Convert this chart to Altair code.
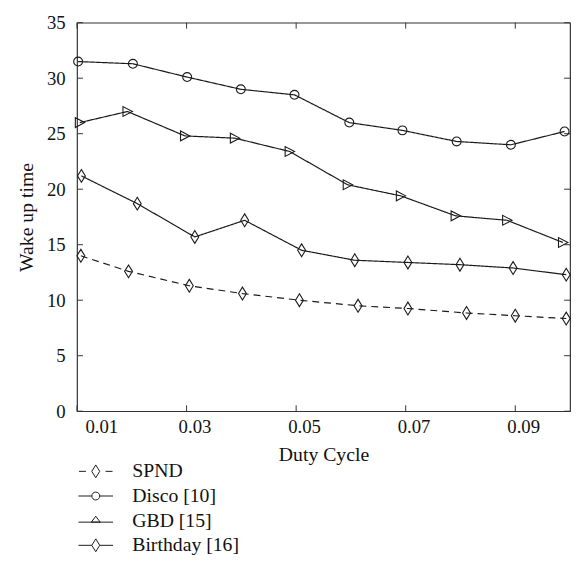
import altair as alt
import pandas as pd

# ---- data ----
series_names = ["SPND", "Disco [10]", "GBD [15]", "Birthday [16]"]

spnd_x = [0.0107, 0.0194, 0.0305, 0.0402, 0.0506, 0.0613, 0.0704, 0.0811, 0.0900, 0.0993]
spnd_y = [14.0, 12.6, 11.3, 10.6, 10.0, 9.5, 9.25, 8.85, 8.6, 8.35]

disco_x = [0.0102, 0.0202, 0.0301, 0.0399, 0.0497, 0.0597, 0.0694, 0.0793, 0.0892, 0.0990]
disco_y = [31.5, 31.3, 30.1, 29.0, 28.5, 26.0, 25.3, 24.3, 24.0, 25.2]

gbd_x = [0.0105, 0.0192, 0.0297, 0.0388, 0.0488, 0.0594, 0.0691, 0.0791, 0.0885, 0.0987]
gbd_y = [26.0, 27.0, 24.8, 24.6, 23.4, 20.4, 19.4, 17.6, 17.2, 15.2]

bday_x = [0.0108, 0.0210, 0.0315, 0.0406, 0.0510, 0.0607, 0.0704, 0.0799, 0.0896, 0.0993]
bday_y = [21.2, 18.7, 15.7, 17.2, 14.5, 13.6, 13.4, 13.2, 12.9, 12.3]

x_ticks = [0.01, 0.03, 0.05, 0.07, 0.09]
y_ticks = [0, 5, 10, 15, 20, 25, 30, 35]

# ---- tables ----
rows = []
for name, xs, ys in zip(series_names,
                        [spnd_x, disco_x, gbd_x, bday_x],
                        [spnd_y, disco_y, gbd_y, bday_y]):
    for xv, yv in zip(xs, ys):
        rows.append({"series": name, "x": xv, "y": yv})
df = pd.DataFrame(rows)
xt = pd.DataFrame({"x": x_ticks})
yt = pd.DataFrame({"y": y_ticks})

W, H = 500, 394
FONT = "Liberation Serif"
INK = "#1a1a1a"

xscale = alt.Scale(domain=[0.01, 0.1], nice=False, zero=False)
yscale = alt.Scale(domain=[0, 35], nice=False)

# plot marker shapes
diamond = "M0,-1.3L0.8,0L0,1.3L-0.8,0Z"
circle = "M-0.9,0A0.9,0.9 0 1,0 0.9,0A0.9,0.9 0 1,0 -0.9,0Z"
tri_right = "M1,0L-0.9,-1L-0.9,1Z"

# legend symbols: line segment + marker
leg_spnd = "M-3.4,0L-2.0,0M2.0,0L3.4,0M0,-1.3L0.8,0L0,1.3L-0.8,0Z"
leg_disco = "M-3.5,0L-0.8,0M0.8,0L3.5,0M-0.8,0A0.8,0.8 0 1,0 0.8,0A0.8,0.8 0 1,0 -0.8,0Z"
leg_gbd = "M-3.5,0.3L3.5,0.3M0,-0.9L0.9,0.3L-0.9,0.3Z"
leg_bday = "M-3.5,0L-0.8,0M0.8,0L3.5,0M0,-1.3L0.8,0L0,1.3L-0.8,0Z"

base = alt.Chart(df)

lines = base.mark_line(color=INK, strokeWidth=1.2).encode(
    x=alt.X("x:Q", scale=xscale,
            axis=alt.Axis(values=x_ticks, format=".2f", title="Duty Cycle",
                          ticks=False, domain=False, grid=False,
                          labelOffset=8, labelPadding=7, titlePadding=8)),
    y=alt.Y("y:Q", scale=yscale,
            axis=alt.Axis(values=y_ticks, title="Wake up time",
                          ticks=False, domain=False, grid=False,
                          labelPadding=12, titlePadding=10)),
    strokeDash=alt.StrokeDash("series:N",
                              scale=alt.Scale(domain=series_names,
                                              range=[[7, 5], [1, 0], [1, 0], [1, 0]]),
                              legend=None),
    detail="series:N",
)

points = base.mark_point(filled=False, color=INK, size=100, strokeWidth=1.1, opacity=1).encode(
    x="x:Q",
    y="y:Q",
    shape=alt.Shape("series:N",
                    scale=alt.Scale(domain=series_names,
                                    range=[diamond, circle, tri_right, diamond]),
                    legend=None),
)

legend_carrier = base.mark_point(opacity=0, filled=False).encode(
    x="x:Q",
    y="y:Q",
    shape=alt.Shape("series:N",
                    scale=alt.Scale(domain=series_names,
                                    range=[leg_spnd, leg_disco, leg_gbd, leg_bday]),
                    legend=alt.Legend(title=None, orient="none",
                                      legendX=9, legendY=445,
                                      direction="vertical",
                                      symbolSize=100, symbolStrokeWidth=1,
                                      symbolOpacity=1, symbolStrokeColor=INK,
                                      symbolFillColor="transparent",
                                      labelFont=FONT, labelFontSize=20,
                                      labelColor="#111", labelOffset=27,
                                      rowPadding=5, labelLimit=300)),
)

tick_len = 6
bottom_ticks = alt.Chart(xt).mark_rule(color="#333", strokeWidth=1).encode(
    x="x:Q", y=alt.value(H), y2=alt.value(H - tick_len))
top_ticks = alt.Chart(xt).mark_rule(color="#333", strokeWidth=1).encode(
    x="x:Q", y=alt.value(0), y2=alt.value(tick_len))
left_ticks = alt.Chart(yt).mark_rule(color="#333", strokeWidth=1).encode(
    y="y:Q", x=alt.value(0), x2=alt.value(tick_len))
right_ticks = alt.Chart(yt).mark_rule(color="#333", strokeWidth=1).encode(
    y="y:Q", x=alt.value(W), x2=alt.value(W - tick_len))

chart = alt.layer(
    bottom_ticks, top_ticks, left_ticks, right_ticks, lines, points, legend_carrier
).resolve_scale(shape="independent").properties(
    width=W, height=H,
    autosize=alt.AutoSizeParams(type="none"),
    padding={"left": 70, "top": 11, "right": 4, "bottom": 148},
).configure_view(
    stroke="#333", strokeWidth=1.2
).configure_axis(
    labelFont=FONT, labelFontSize=19, labelColor="#111",
    titleFont=FONT, titleFontSize=20, titleFontWeight="normal", titleColor="#111",
)

chart.save("out.html", embed_options={"renderer": "svg", "actions": False})
